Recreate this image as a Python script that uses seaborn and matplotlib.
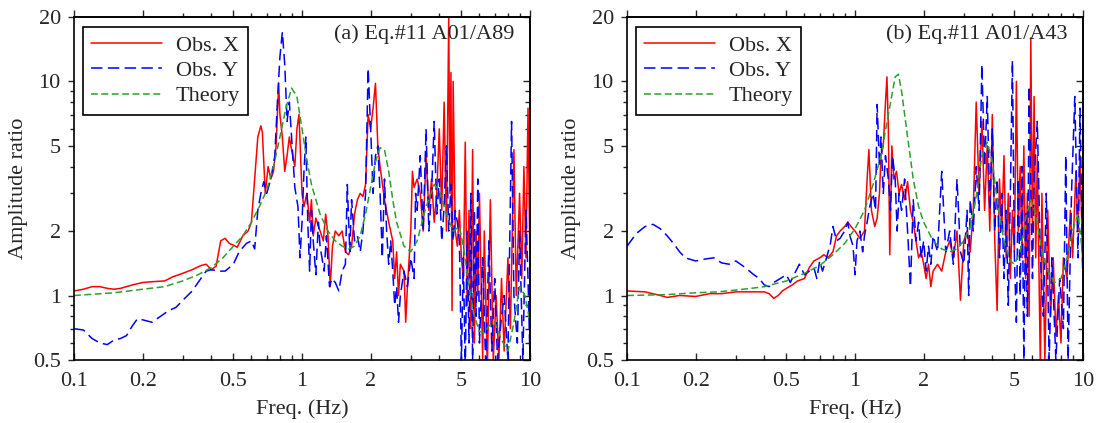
import numpy as np
import pandas as pd
import seaborn as sns
from matplotlib import pyplot as plt
from matplotlib.ticker import LogLocator, FixedLocator, FixedFormatter, NullFormatter

## Data
# Panel (a) Eq.#11 A01/A89
a_theory_f = [0.1, 0.15, 0.2, 0.25, 0.3, 0.35, 0.4, 0.45, 0.5, 0.55, 0.6, 0.65, 0.7, 0.75, 0.8, 0.85,
              0.9, 0.95, 1.0, 1.05, 1.1, 1.2, 1.3, 1.4, 1.5, 1.6, 1.7, 1.8, 1.9, 2.0, 2.1, 2.2, 2.3,
              2.4, 2.5, 2.6, 2.8, 3.0, 3.2, 3.5, 3.8, 4.0, 4.3, 4.6, 4.9, 5.1, 5.4, 5.7, 6.0, 6.3,
              6.6, 7.0, 7.5, 8.0, 8.5, 9.0, 9.5, 10.0]
a_theory = [1.0, 1.03, 1.07, 1.1, 1.17, 1.25, 1.35, 1.5, 1.7, 1.9, 2.2, 2.6, 3.1, 4.0, 5.5, 7.5,
            9.3, 8.5, 6.0, 4.3, 3.3, 2.4, 2.0, 1.8, 1.7, 1.65, 1.7, 1.9, 2.4, 3.2, 4.2, 4.9, 4.8,
            3.8, 2.8, 2.2, 1.7, 1.6, 1.8, 2.6, 3.3, 3.1, 2.4, 2.0, 2.1, 1.7, 1.1, 0.8, 0.68, 0.67,
            0.72, 0.75, 0.62, 0.55, 0.75, 1.1, 1.0, 0.75]

a_obsx_f = [0.1, 0.11, 0.12, 0.13, 0.14, 0.15, 0.16, 0.18, 0.2, 0.22, 0.25, 0.27, 0.3, 0.33, 0.36,
            0.38, 0.4, 0.42, 0.44, 0.46, 0.48, 0.5, 0.52, 0.55, 0.58, 0.6, 0.62, 0.64, 0.66, 0.67,
            0.69, 0.71, 0.73, 0.75, 0.77, 0.79, 0.8, 0.82, 0.84, 0.86, 0.88, 0.9, 0.93, 0.95, 0.97,
            1.0, 1.02, 1.05, 1.08, 1.1, 1.12, 1.15, 1.2, 1.24, 1.27, 1.3, 1.33, 1.36, 1.4, 1.45,
            1.5, 1.55, 1.6, 1.65, 1.7, 1.75, 1.8, 1.85, 1.9, 1.95, 2.0, 2.05, 2.1, 2.15, 2.2, 2.3,
            2.4, 2.5, 2.55, 2.6, 2.65, 2.7, 2.8, 2.85, 2.9, 3.0, 3.05, 3.1, 3.2, 3.3, 3.4, 3.5,
            3.6, 3.7, 3.8, 3.9, 4.0, 4.1, 4.2, 4.3, 4.35, 4.4, 4.45, 4.5, 4.55, 4.6, 4.7, 4.8,
            4.9, 5.0, 5.1, 5.2, 5.3, 5.4, 5.5, 5.6, 5.7, 5.8, 5.9, 6.0, 6.2, 6.3, 6.5, 6.7, 6.9,
            7.1, 7.3, 7.5, 7.7, 8.0, 8.2, 8.5, 8.7, 9.0, 9.2, 9.4, 9.6, 9.8, 10.0]
a_obsx = [1.05, 1.07, 1.1, 1.1, 1.08, 1.07, 1.08, 1.12, 1.15, 1.16, 1.17, 1.22, 1.27, 1.32, 1.38,
          1.4, 1.32, 1.37, 1.8, 1.85, 1.75, 1.72, 1.68, 1.9, 2.0, 2.2, 3.5, 5.5, 6.2, 5.8,
          3.0, 4.0, 3.5, 3.8, 5.0, 9.8, 7.0, 5.5, 3.8, 4.5, 5.5, 4.8, 4.0, 6.0, 7.0,
          3.0, 2.6, 3.0, 2.2, 2.8, 1.9, 2.3, 2.0, 1.8, 2.4, 1.9, 1.1, 1.7, 2.0, 1.9,
          2.0, 1.6, 1.55, 1.7, 2.4, 2.8, 3.0, 2.9, 3.3, 7.0, 6.0, 7.5, 9.8, 5.0, 4.0, 2.8,
          2.2, 1.8, 1.2, 1.6, 1.0, 1.4, 1.3, 0.75, 1.1, 2.0, 3.8, 3.2, 3.5, 3.0, 2.0, 4.5,
          2.5, 3.5, 2.2, 3.0, 6.0, 2.5, 8.0, 2.0, 6.0, 20.0, 3.0, 11.0, 0.85, 10.0, 2.0, 1.7,
          2.5, 1.5, 1.2, 5.2, 0.9, 2.5, 0.7, 4.8, 0.6, 2.0, 1.0, 3.0, 0.5, 2.0, 0.45, 2.8, 0.5,
          1.0, 0.5, 1.2, 0.55, 1.5, 0.7, 4.8, 1.0, 3.0, 1.2, 4.0, 1.5, 7.5, 1.3]

a_obsy_f = [0.1, 0.11, 0.12, 0.13, 0.14, 0.15, 0.16, 0.17, 0.18, 0.19, 0.2, 0.22, 0.24, 0.26, 0.28,
            0.3, 0.33, 0.36, 0.38, 0.4, 0.43, 0.46, 0.5, 0.53, 0.57, 0.6, 0.62, 0.64, 0.66, 0.68,
            0.7, 0.73, 0.76, 0.78, 0.8, 0.82, 0.84, 0.86, 0.88, 0.9, 0.93, 0.96, 0.98, 1.0, 1.02,
            1.04, 1.06, 1.08, 1.1, 1.12, 1.15, 1.18, 1.2, 1.25, 1.28, 1.32, 1.35, 1.4, 1.45, 1.5,
            1.55, 1.58, 1.62, 1.65, 1.7, 1.75, 1.8, 1.85, 1.9, 1.95, 2.0, 2.05, 2.1, 2.15, 2.2,
            2.25, 2.3, 2.35, 2.4, 2.45, 2.5, 2.55, 2.6, 2.65, 2.7, 2.8, 2.9, 3.0, 3.1, 3.15, 3.2,
            3.3, 3.4, 3.5, 3.6, 3.7, 3.8, 3.9, 4.0, 4.1, 4.2, 4.3, 4.4, 4.5, 4.6, 4.7, 4.8, 4.9,
            5.0, 5.1, 5.2, 5.3, 5.4, 5.5, 5.6, 5.7, 5.8, 5.9, 6.0, 6.2, 6.4, 6.6, 6.8, 7.0, 7.2,
            7.5, 7.7, 8.0, 8.3, 8.5, 8.8, 9.0, 9.3, 9.6, 9.8, 10.0]
a_obsy = [0.7, 0.69, 0.63, 0.6, 0.59, 0.62, 0.63, 0.65, 0.72, 0.78, 0.77, 0.75, 0.8, 0.85, 0.88,
          0.95, 1.05, 1.2, 1.3, 1.32, 1.3, 1.3, 1.4, 1.6, 1.75, 1.8, 1.65, 2.5, 3.0, 3.4,
          3.0, 3.5, 4.5, 8.0, 13.0, 17.0, 12.0, 6.5, 8.0, 5.5, 3.2, 2.6, 1.5, 2.2, 3.8,
          5.5, 2.2, 1.3, 2.5, 1.8, 1.25, 2.2, 1.7, 1.3, 1.9, 1.1, 1.2, 1.15, 1.05, 1.3,
          1.4, 3.3, 1.6, 2.8, 1.8, 1.9, 1.6, 2.0, 3.0, 11.5, 6.0, 3.0, 4.5, 5.0, 3.0,
          1.5, 3.5, 2.0, 1.4, 1.8, 1.3, 0.9, 1.1, 0.75, 1.0, 1.3, 1.1, 1.5, 1.2, 3.0, 2.5,
          4.5, 2.0, 6.0, 2.0, 3.0, 6.5, 2.4, 3.5, 1.8, 2.6, 5.0, 2.0, 3.3, 1.8, 2.5, 2.2, 1.8,
          0.5, 1.5, 0.45, 2.0, 0.6, 3.0, 0.5, 2.5, 0.8, 3.5, 0.6, 1.5, 0.45, 1.8, 0.55, 1.2, 0.5,
          0.8, 1.0, 0.5, 6.5, 1.0, 0.6, 2.0, 0.5, 2.5, 1.2, 0.5]

# Panel (b) Eq.#11 A01/A43
b_theory_f = [0.1, 0.15, 0.2, 0.25, 0.3, 0.35, 0.4, 0.5, 0.6, 0.7, 0.8, 0.9, 1.0, 1.1, 1.2, 1.3,
              1.4, 1.5, 1.55, 1.6, 1.7, 1.8, 1.9, 2.0, 2.2, 2.4, 2.6, 2.8, 3.0, 3.2, 3.4, 3.6,
              3.8, 4.0, 4.2, 4.5, 4.8, 5.0, 5.3, 5.6, 5.9, 6.2, 6.6, 7.0, 7.5, 8.0, 8.5, 9.0,
              9.5, 10.0]
b_theory = [1.0, 1.01, 1.03, 1.04, 1.06, 1.08, 1.1, 1.17, 1.27, 1.38, 1.55, 1.75, 2.05, 2.5, 3.3,
            4.5, 7.0, 10.5, 10.8, 9.0, 5.5, 3.5, 2.6, 2.2, 1.8, 1.65, 1.6, 1.65, 1.8, 2.1, 2.9,
            4.5, 5.2, 4.2, 2.8, 1.8, 1.45, 1.4, 1.6, 2.3, 2.8, 2.4, 1.6, 1.3, 1.15, 1.2, 1.5,
            2.0, 2.4, 1.5]

b_obsx_f = [0.1, 0.12, 0.14, 0.15, 0.17, 0.2, 0.23, 0.26, 0.3, 0.35, 0.4, 0.42, 0.44, 0.46, 0.48,
            0.5, 0.53, 0.56, 0.6, 0.63, 0.66, 0.7, 0.73, 0.76, 0.8, 0.83, 0.86, 0.9, 0.93, 0.96,
            1.0, 1.05, 1.1, 1.13, 1.15, 1.18, 1.22, 1.25, 1.28, 1.3, 1.33, 1.36, 1.38, 1.4, 1.42,
            1.45, 1.48, 1.52, 1.56, 1.6, 1.65, 1.7, 1.75, 1.8, 1.85, 1.9, 1.95, 2.0, 2.05, 2.1,
            2.15, 2.2, 2.3, 2.4, 2.5, 2.6, 2.7, 2.8, 2.9, 3.0, 3.1, 3.2, 3.3, 3.4, 3.5, 3.6, 3.7,
            3.8, 3.9, 4.0, 4.1, 4.2, 4.3, 4.4, 4.5, 4.6, 4.7, 4.8, 4.9, 5.0, 5.1, 5.2, 5.3, 5.4,
            5.5, 5.6, 5.7, 5.8, 5.9, 6.0, 6.1, 6.2, 6.3, 6.5, 6.6, 6.8, 7.0, 7.2, 7.4, 7.6, 7.8,
            8.0, 8.2, 8.5, 8.8, 9.0, 9.3, 9.5, 9.7, 10.0]
b_obsx = [1.05, 1.04, 1.0, 0.98, 1.0, 0.99, 1.02, 1.02, 1.04, 1.04, 1.04, 1.02, 0.97, 1.0, 1.05,
          1.08, 1.12, 1.17, 1.2, 1.35, 1.45, 1.5, 1.55, 1.5, 1.6, 1.9, 2.0, 2.1, 2.2, 2.1,
          2.0, 1.85, 2.0, 3.5, 4.8, 2.5, 2.1, 2.3, 3.0, 4.5, 5.0, 8.0, 10.5, 6.0, 1.55,
          5.0, 3.5, 3.8, 3.0, 3.3, 2.8, 3.4, 2.5, 2.2, 1.8, 1.5, 1.6, 1.4, 1.2, 1.4,
          1.1, 1.3, 1.4, 1.3, 1.6, 1.8, 1.5, 2.0, 0.95, 1.8, 2.0, 1.6, 2.5, 8.0, 3.0, 6.5, 2.5,
          5.0, 2.0, 7.0, 1.8, 0.85, 3.5, 2.0, 4.5, 1.5, 3.0, 1.2, 2.5, 1.6, 10.0, 2.0, 4.0, 1.5,
          5.0, 1.2, 3.0, 0.8, 16.0, 2.0, 8.5, 1.5, 4.5, 0.45, 3.0, 0.5, 2.5, 0.8, 1.5, 0.65, 1.0,
          0.6, 1.5, 1.2, 2.5, 1.5, 3.8, 2.0, 4.5, 1.2]

b_obsy_f = [0.1, 0.11, 0.12, 0.13, 0.14, 0.15, 0.16, 0.17, 0.18, 0.2, 0.22, 0.24, 0.26, 0.28, 0.3,
            0.33, 0.36, 0.38, 0.4, 0.42, 0.44, 0.47, 0.5, 0.52, 0.55, 0.57, 0.6, 0.63, 0.66, 0.68,
            0.7, 0.72, 0.75, 0.78, 0.8, 0.83, 0.86, 0.9, 0.93, 0.95, 0.98, 1.0, 1.02, 1.05, 1.08,
            1.1, 1.13, 1.16, 1.2, 1.23, 1.25, 1.28, 1.3, 1.33, 1.36, 1.4, 1.43, 1.46, 1.5, 1.53,
            1.56, 1.6, 1.65, 1.7, 1.75, 1.8, 1.85, 1.9, 1.95, 2.0, 2.05, 2.1, 2.15, 2.2, 2.3, 2.4,
            2.5, 2.6, 2.7, 2.8, 2.9, 3.0, 3.1, 3.15, 3.2, 3.3, 3.4, 3.5, 3.6, 3.7, 3.8, 3.9, 4.0,
            4.1, 4.2, 4.3, 4.4, 4.5, 4.6, 4.7, 4.8, 4.9, 5.0, 5.1, 5.2, 5.3, 5.4, 5.5, 5.6, 5.7,
            5.8, 6.0, 6.1, 6.3, 6.5, 6.7, 6.9, 7.1, 7.3, 7.6, 7.9, 8.2, 8.4, 8.6, 8.9, 9.2, 9.5,
            9.7, 10.0]
b_obsy = [1.7, 1.95, 2.1, 2.15, 2.05, 1.9, 1.75, 1.6, 1.5, 1.45, 1.48, 1.5, 1.42, 1.4, 1.45,
          1.35, 1.25, 1.2, 1.12, 1.1, 1.15, 1.2, 1.25, 1.15, 1.3, 1.4, 1.25, 1.3, 1.35, 1.2,
          1.45, 1.3, 1.5, 1.75, 2.1, 1.8, 1.85, 2.0, 2.2, 1.9, 1.7, 1.25, 1.8, 2.0, 1.6,
          1.9, 2.2, 2.6, 3.0, 2.5, 7.8, 4.0, 5.5, 3.0, 4.5, 3.5, 2.5, 4.5, 3.5, 2.0,
          3.0, 2.5, 3.5, 2.0, 1.1, 2.8, 1.8, 2.2, 1.5, 1.8, 1.3, 1.7, 1.4, 1.9, 1.6, 3.8,
          1.6, 2.0, 1.4, 3.5, 1.6, 1.4, 2.5, 1.0, 2.8, 2.0, 4.0, 2.5, 12.0, 4.0, 8.5, 2.5, 6.0,
          2.0, 3.5, 1.5, 3.0, 1.2, 2.5, 0.9, 3.0, 12.5, 1.5, 0.75, 3.5, 1.0, 4.0, 0.5, 2.5, 0.8,
          9.5, 1.2, 3.5, 6.5, 1.5, 0.8, 3.0, 0.5, 1.5, 0.5, 1.2, 0.7, 4.5, 0.5, 3.0, 8.5, 1.5,
          7.5, 1.0]

panels = [
    ('(a) Eq.#11 A01/A89', a_obsx_f, a_obsx, a_obsy_f, a_obsy, a_theory_f, a_theory),
    ('(b) Eq.#11 A01/A43', b_obsx_f, b_obsx, b_obsy_f, b_obsy, b_theory_f, b_theory),
]

x_ticks = [0.1, 0.2, 0.5, 1, 2, 5, 10]
x_labels = ['0.1', '0.2', '0.5', '1', '2', '5', '10']
y_ticks = [0.5, 1, 2, 5, 10, 20]
y_labels = ['0.5', '1', '2', '5', '10', '20']
minor_subs = (3, 4, 6, 7, 8, 9)

## Plotting
sns.set_style('ticks')
plt.rcParams['font.family'] = ['Liberation Serif', 'DejaVu Serif']
plt.rcParams['font.size'] = 16

fig = plt.figure(figsize=(11.01, 4.23), dpi=100)
ax_lefts = [0.0672, 0.5695]

for left, (title, fx, vx, fy, vy, ft, vt) in zip(ax_lefts, panels):
    ax = fig.add_axes([left, 0.149, 0.4142, 0.811])
    dx = pd.DataFrame({'freq': fx, 'amp': vx})
    dy = pd.DataFrame({'freq': fy, 'amp': vy})
    dt = pd.DataFrame({'freq': ft, 'amp': vt})
    sns.lineplot(data=dx, x='freq', y='amp', ax=ax, color='#ff0000', lw=1.1,
                 estimator=None, sort=False, label='Obs. X')
    sns.lineplot(data=dy, x='freq', y='amp', ax=ax, color='#0000ff', lw=1.1,
                 estimator=None, sort=False, label='Obs. Y', linestyle=(0, (7.5, 3.5)))
    sns.lineplot(data=dt, x='freq', y='amp', ax=ax, color='#2ca02c', lw=1.1,
                 estimator=None, sort=False, label='Theory', linestyle=(0, (4.5, 2.3)))
    ax.set_xscale('log')
    ax.set_yscale('log')
    ax.set_xlim(0.1, 10)
    ax.set_ylim(0.5, 20)

    # bottom: labels with inward ticks, left: outward ticks
    ax.xaxis.set_major_locator(FixedLocator(x_ticks))
    ax.xaxis.set_major_formatter(FixedFormatter(x_labels))
    ax.yaxis.set_major_locator(FixedLocator(y_ticks))
    ax.yaxis.set_major_formatter(FixedFormatter(y_labels))
    ax.xaxis.set_minor_locator(LogLocator(base=10, subs=minor_subs))
    ax.yaxis.set_minor_locator(LogLocator(base=10, subs=minor_subs))
    ax.xaxis.set_minor_formatter(NullFormatter())
    ax.yaxis.set_minor_formatter(NullFormatter())
    ax.tick_params(axis='x', which='major', direction='in', length=5, width=1.0,
                   top=False, labelsize=16, pad=9)
    ax.tick_params(axis='x', which='minor', direction='in', length=3.5, width=1.0, top=False)
    ax.tick_params(axis='y', which='major', direction='out', length=4.5, width=1.0,
                   right=False, labelsize=16, pad=5)
    ax.tick_params(axis='y', which='minor', direction='out', length=3, width=1.0, right=False)

    # top: outward ticks, right: inward ticks
    top = ax.secondary_xaxis('top')
    top.xaxis.set_major_locator(FixedLocator(x_ticks))
    top.xaxis.set_minor_locator(LogLocator(base=10, subs=minor_subs))
    top.xaxis.set_major_formatter(NullFormatter())
    top.xaxis.set_minor_formatter(NullFormatter())
    top.tick_params(which='major', direction='out', length=5, width=1.0)
    top.tick_params(which='minor', direction='out', length=3, width=1.0)
    right = ax.secondary_yaxis('right')
    right.yaxis.set_major_locator(FixedLocator(y_ticks))
    right.yaxis.set_minor_locator(LogLocator(base=10, subs=minor_subs))
    right.yaxis.set_major_formatter(NullFormatter())
    right.yaxis.set_minor_formatter(NullFormatter())
    right.tick_params(which='major', direction='in', length=5, width=1.0)
    right.tick_params(which='minor', direction='in', length=3.5, width=1.0)

    for s in list(ax.spines.values()) + [top.spines['top'], right.spines['right']]:
        s.set_linewidth(1.2)
        s.set_color('black')

    ax.set_xlabel('Freq. (Hz)', fontsize=16)
    ax.set_ylabel('Amplitude ratio', fontsize=16)
    ax.xaxis.set_label_coords(0.5, -0.115)
    ax.yaxis.set_label_coords(-0.1, 0.5)
    ax.text(0.965, 0.95, title, transform=ax.transAxes, ha='right', va='center', fontsize=16)

    leg = ax.legend(loc='upper left', bbox_to_anchor=(0.019, 0.972), fontsize=16,
                    frameon=True, fancybox=False, framealpha=1, edgecolor='black',
                    handlelength=3.2, handletextpad=0.6, labelspacing=0.22,
                    borderpad=0.38, borderaxespad=0)
    leg.get_frame().set_linewidth(1.2)

fig.savefig('out.png', dpi=100)
